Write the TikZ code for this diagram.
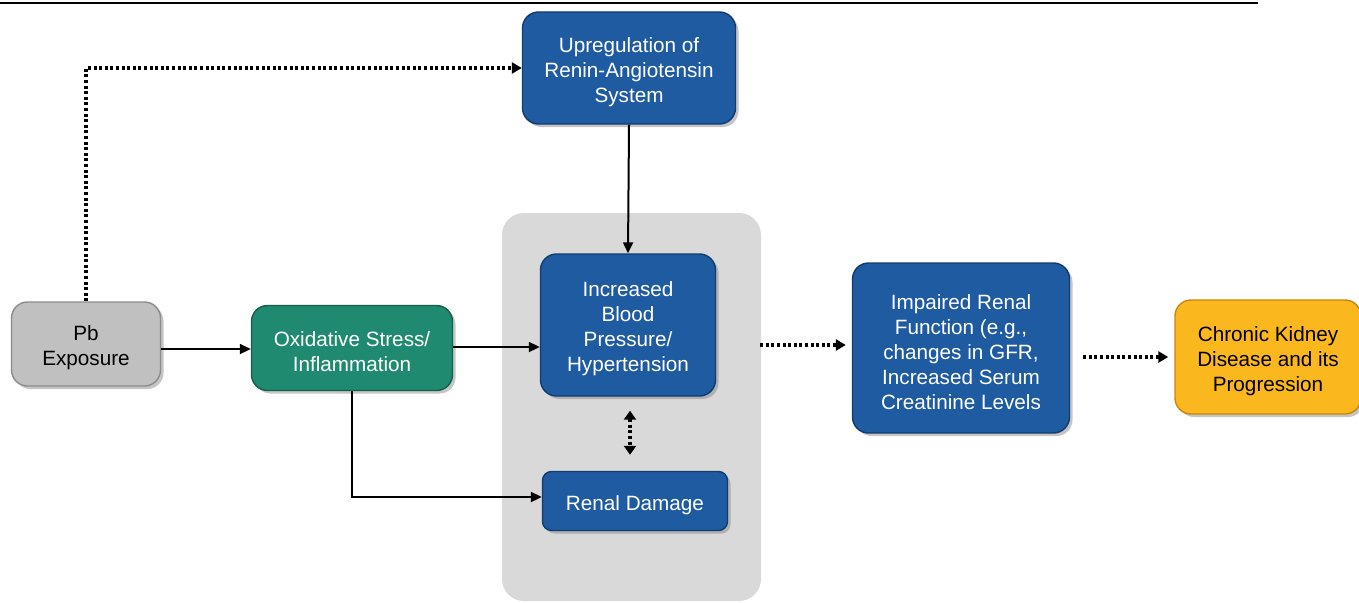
\documentclass[tikz,border=0pt]{standalone}
\usepackage{fontspec}
\setmainfont{Liberation Sans}
\usetikzlibrary{arrows.meta,shadows,positioning}
\definecolor{boxblue}{RGB}{31,91,160}
\definecolor{boxblueD}{RGB}{18,60,112}
\definecolor{boxteal}{RGB}{31,138,112}
\definecolor{boxtealD}{RGB}{18,95,76}
\definecolor{boxgray}{RGB}{192,192,192}
\definecolor{boxgrayD}{RGB}{140,140,140}
\definecolor{boxyellow}{RGB}{251,183,30}
\definecolor{boxyellowD}{RGB}{200,135,10}
\definecolor{panel}{RGB}{217,217,217}
\newcommand{\toppad}{\rule{0pt}{23pt}}
\tikzset{
  box/.style={rectangle, rounded corners=16pt, align=center, line width=1.4pt,
    font=\fontsize{20.7}{25}\selectfont, inner sep=2pt,
    drop shadow={opacity=0.45, shadow xshift=3pt, shadow yshift=-3pt}},
  bluebox/.style={box, fill=boxblue, draw=boxblueD, text=white},
  tealbox/.style={box, fill=boxteal, draw=boxtealD, text=white},
  graybox/.style={box, fill=boxgray, draw=boxgrayD, text=black},
  yellowbox/.style={box, fill=boxyellow, draw=boxyellowD, text=black},
  solidarrow/.style={line width=2pt, -{Triangle[length=11pt,width=10pt]}},
  dotarrow/.style={line width=3.6pt, dash pattern=on 3pt off 2.6pt, -{Triangle[length=10pt,width=11pt]}},
}
\begin{document}
\begin{tikzpicture}[x=1pt,y=-1pt]
\useasboundingbox (0,0) rectangle (1359,602);
\fill[white] (0,0) rectangle (1359,602);
\draw[line width=2.8pt] (0,3) -- (1258,3);
% panel
\fill[panel, rounded corners=22pt] (502,213) rectangle (761,601);
% nodes
\node[graybox, minimum width=149pt, minimum height=84pt] (pb) at (86,344) {\toppad Pb\\Exposure};
\node[tealbox, minimum width=201pt, minimum height=85pt] (ox) at (352,348) {\toppad Oxidative Stress/\\Inflammation};
\node[bluebox, minimum width=213pt, minimum height=112pt] (up) at (629,68) {\toppad Upregulation of\\Renin-Angiotensin\\System};
\node[bluebox, minimum width=175pt, minimum height=142pt] (bp) at (628,325) {\toppad Increased\\Blood\\Pressure/\\Hypertension};
\node[bluebox, rounded corners=9pt, minimum width=185pt, minimum height=59pt] (rd) at (635,501) {\toppad Renal Damage};
\node[bluebox, minimum width=217pt, minimum height=170pt] (imp) at (961,348) {\toppad Impaired Renal\\Function (e.g.,\\changes in GFR,\\Increased Serum\\Creatinine Levels};
\node[yellowbox, minimum width=186pt, minimum height=114pt] (ckd) at (1268,357) {\toppad Chronic Kidney\\Disease and its\\Progression};
% connectors
\draw[solidarrow] (pb.east |- 0,349) -- (ox.west |- 0,349);
\draw[solidarrow] (ox.east |- 0,347) -- (bp.west |- 0,347);
\draw[solidarrow] (ox.south) |- ([yshift=4pt]rd.west);
\draw[solidarrow] (up.south) -- (bp.north);
\draw[dotarrow] (pb.north) |- (up.west);
\draw[line width=3.6pt, dash pattern=on 3pt off 2.6pt, {Triangle[length=9pt,width=12pt]}-{Triangle[length=9pt,width=12pt]}, shorten <=14pt, shorten >=16pt] ([xshift=2pt]bp.south) -- ([xshift=2pt]bp.south |- rd.north);
\draw[dotarrow, shorten <=44pt, shorten >=6pt] (bp.east |- 0,345) -- (imp.west |- 0,345);
\draw[dotarrow, shorten <=13pt, shorten >=6pt] (imp.east |- ckd.west) -- (ckd.west);
\end{tikzpicture}
\end{document}
